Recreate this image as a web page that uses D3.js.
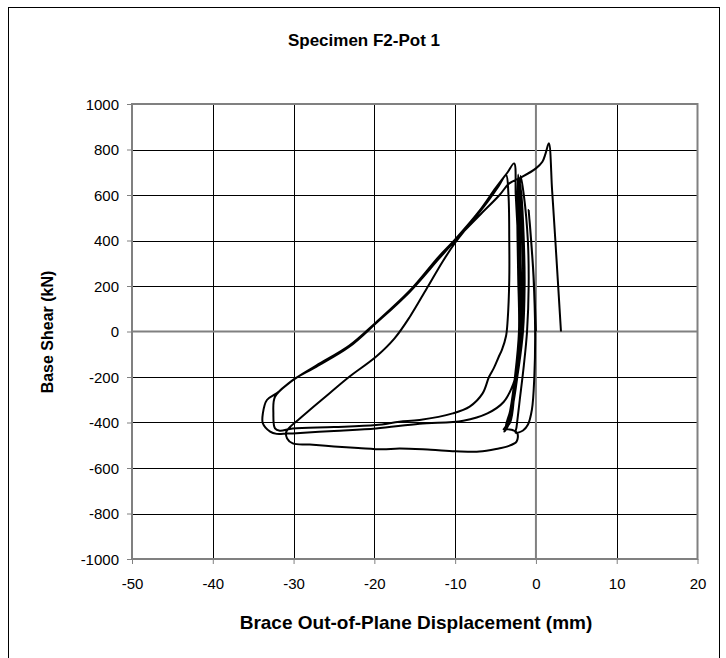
<!DOCTYPE html>
<html><head><meta charset="utf-8">
<script src="https://cdn.jsdelivr.net/npm/d3@7"></script>
<style>body{margin:0;background:#fff}svg{display:block}text{font-family:"Liberation Sans",Arial,sans-serif}</style>
</head><body><svg id="c" width="726" height="658"></svg>
<script>
const chartTitle = "Specimen F2-Pot 1";
const xTitle = "Brace Out-of-Plane Displacement (mm)";
const yTitle = "Base Shear (kN)";
const xTicks = [-50,-40,-30,-20,-10,0,10,20];
const yTicks = [-1000,-800,-600,-400,-200,0,200,400,600,800,1000];
// displacement (mm) and base shear (kN), in recorded order
const disp = [0,-0.3,-0.7,-0.9,-0.6,-0.3,-0.1,-0.2,-0.5,-1.0,-1.6,-2.5,
 -2.4,-2.0,-1.5,-1.1,-0.9,-1.0,-1.5,-1.9,-2.0,-1.9,-1.8,-2.0,-2.5,-3.0,-3.6,-3.9,
 -3.4,-2.8,-2.1,-1.6,-1.4,-1.5,-1.8,-2.1,-2.2,-2.1,-2.0,-2.3,-2.8,-3.4,-4.0,
 -3.2,-2.6,-2.0,-1.7,-1.6,-1.9,-2.2,-2.3,-2.2,-2.1,-2.6,-3.2,-3.7,-2.9,
 -2.3,-2.4,-3.5,-4.6,-7,-10,-13,-16.9,-19,-22,-25,-28,-30.1,-30.8,-30.9,-30.3,-29.3,-27.5,-25.5,-23.1,-19.8,-17.5,-15.6,-13.5,-11.5,-10,-8,-6,-4.6,-3.7,
 -3.4,-3.3,-3.3,-3.5,-3.7,-4.2,-4.6,-5.2,-5.8,-6.6,-8.2,-10.3,-14.4,-16.9,-19.8,-25,-30.1,-31.7,-32.3,-32.5,-32.3,
 -30.5,-27.2,-23.1,-19.8,-15.6,-12,-10,-7,-5,-3.5,-2.7,
 -2.5,-2.2,-1.9,-1.8,-2.1,-2.8,-4,-6,-9,-14.4,-19.8,-25,-30.1,-30.9,-32.1,-32.9,-33.8,-33.8,-33.3,-32.1,-30.1,-27.2,-23.1,-19.8,-15.6,-12,-10,-7,-4.5,-3.3,-1.8,0,0.8,1.2,1.6,2.0,2.4,3.1];
const shear = [0,250,450,534,400,240,0,-200,-344,-410,-435,-445,
 -420,-300,-150,0,200,400,600,683,550,350,100,-100,-250,-350,-420,-440,
 -410,-300,-150,0,200,400,600,670,500,300,50,-150,-300,-400,-430,
 -400,-250,-100,100,300,550,690,500,250,0,-200,-350,-425,-433,
 -447,-484,-505,-514,-528,-526,-520,-514,-518,-512,-505,-497,-492,-470,-440,-415,-385,-330,-270,-199,-111,-30,65,190,310,390,480,570,640,688,
 600,400,226,50,-20,-80,-111,-160,-199,-272,-330,-360,-389,-397,-411,-420,-426,-436,-426,-360,-287,
 -225,-150,-62,40,180,330,405,530,630,700,739,
 600,400,150,0,-125,-230,-310,-360,-392,-405,-426,-437,-448,-449,-450,-440,-404,-360,-301,-272,-213,-155,-67,36,175,320,400,510,600,651,678,717,746,783,827,622,402,0];

const svg = d3.select("#c");
svg.append("rect").attr("x",8.5).attr("y",7.5).attr("width",711).attr("height",670).attr("fill","#fff").attr("stroke","#000");
const L=132,R=697.5,T=104,B=559;
const x = d3.scaleLinear().domain([-50,20]).range([L,R]);
const y = d3.scaleLinear().domain([-1000,1000]).range([B,T]);
const g = svg.append("g");
g.selectAll(".vg").data(xTicks.filter(d=>d!==0&&d!==-50&&d!==20)).enter().append("line")
 .attr("x1",d=>Math.round(x(d))+0.5).attr("x2",d=>Math.round(x(d))+0.5).attr("y1",T).attr("y2",B).attr("stroke","#000");
g.selectAll(".hg").data(yTicks.filter(d=>d!==0&&d!==-1000&&d!==1000)).enter().append("line")
 .attr("y1",d=>Math.round(y(d))+0.5).attr("y2",d=>Math.round(y(d))+0.5).attr("x1",L).attr("x2",R).attr("stroke","#000");
const fmt = d=>String(d);
const xa = g.append("g").attr("transform",`translate(0,${B})`).call(d3.axisBottom(x).tickValues(xTicks).tickFormat(fmt).tickSize(5).tickPadding(14));
const ya = g.append("g").attr("transform",`translate(${L},0)`).call(d3.axisLeft(y).tickValues(yTicks).tickFormat(fmt).tickSize(5).tickPadding(8));
[xa,ya].forEach(a=>{a.select(".domain").remove();a.selectAll("line").attr("stroke","#808080");a.selectAll("text").attr("font-size",15).attr("fill","#000").attr("font-family","Liberation Sans, Arial, sans-serif");});
ya.selectAll("text").attr("dy","0.35em");
g.append("line").attr("x1",x(0)).attr("x2",x(0)).attr("y1",T).attr("y2",B).attr("stroke","#808080").attr("stroke-width",2);
g.append("line").attr("x1",L).attr("x2",R).attr("y1",y(0)).attr("y2",y(0)).attr("stroke","#808080").attr("stroke-width",2);
g.append("rect").attr("x",L).attr("y",T).attr("width",R-L).attr("height",B-T).attr("fill","none").attr("stroke","#808080").attr("stroke-width",2);
const pts = disp.map((d,i)=>[d,shear[i]]);
g.append("path").datum(pts).attr("fill","none").attr("stroke","#000").attr("stroke-width",2).attr("stroke-linejoin","round")
 .attr("d",d3.line().x(d=>x(d[0])).y(d=>y(d[1])).curve(d3.curveCatmullRom.alpha(0.5)));
svg.append("text").attr("x",364).attr("y",46).attr("text-anchor","middle").attr("font-weight","bold").attr("font-size",17).text(chartTitle);
svg.append("text").attr("x",416).attr("y",629).attr("text-anchor","middle").attr("font-weight","bold").attr("font-size",19).text(xTitle);
svg.append("text").attr("transform","translate(53,332) rotate(-90)").attr("text-anchor","middle").attr("font-weight","bold").attr("font-size",16).text(yTitle);
</script></body></html>
